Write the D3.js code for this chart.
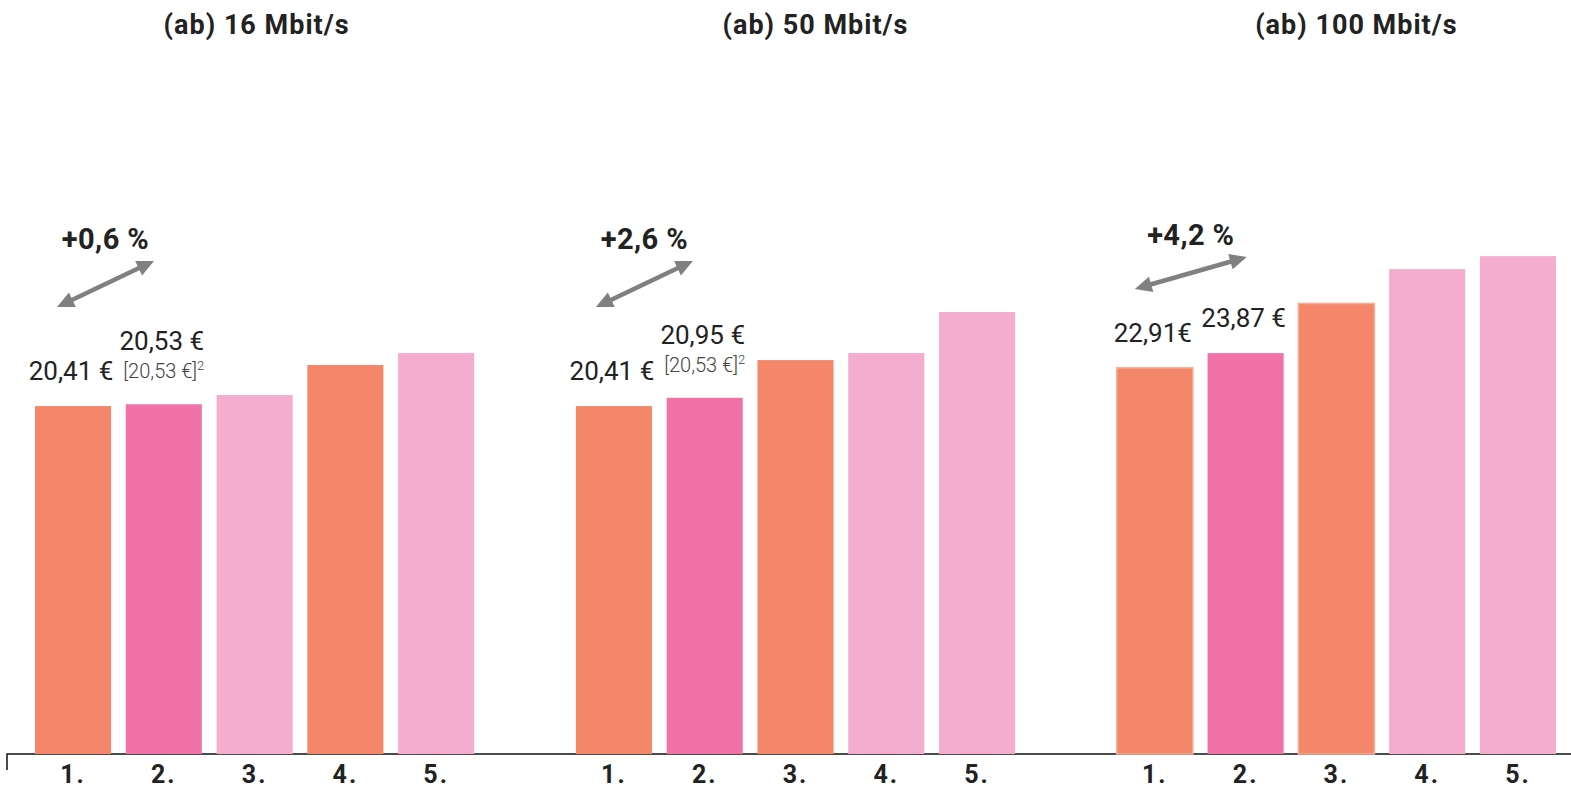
<!DOCTYPE html>
<html>
<head>
<meta charset="utf-8">
<script src="https://cdn.jsdelivr.net/npm/d3@7"></script>
<style>
  html, body { margin: 0; padding: 0; background: #fff; }
  svg { display: block; font-family: Roboto, "Noto Sans", sans-serif; }
</style>
</head>
<body>
<svg id="chart" width="1571" height="789"></svg>
<script>
// ---------- data ----------
const panels = ["(ab) 16 Mbit/s", "(ab) 50 Mbit/s", "(ab) 100 Mbit/s"];
const ranks = ["1.", "2.", "3.", "4.", "5."];
const values16 = [20.41, 20.53, 21.13, 23.09, 23.87];
const values50 = [20.41, 20.95, 23.41, 23.87, 26.55];
const values100 = [22.91, 23.87, 27.11, 29.35, 30.20];
const seriesValues = [values16, values50, values100];
const colorKinds16 = ["a", "b", "c", "a", "c"];
const colorKinds50 = ["a", "b", "a", "c", "c"];
const colorKinds100 = ["a", "b", "a", "c", "c"];
const seriesKinds = [colorKinds16, colorKinds50, colorKinds100];
const valueLabels = [["20,41 €", "20,53 €"], ["20,41 €", "20,95 €"], ["22,91€", "23,87 €"]];
const noteLabels = [[null, "[20,53 €]"], [null, "[20,53 €]"], [null, null]];
const changeLabels = ["+0,6 %", "+2,6 %", "+4,2 %"];

// ---------- layout / style ----------
const W = 1571, H = 789;
const baseY = 754;
const colors = { a: "#F4866A", b: "#F072A8", c: "#F4ADCF" };
const titleDx = [2, 20, 20];
// arrow geometry, panel-relative x and absolute y: [x1, y1, x2, y2]
const arrowGeom = [[22, 307, 119, 261], [20, 307, 117, 261], [18, 289, 130, 257]];

const svg = d3.select("#chart");

const outer = d3.scaleBand().domain(panels).range([35, 1556]).paddingInner(0.188).paddingOuter(0);
const inner = d3.scaleBand().domain(ranks).range([0, outer.bandwidth()]).paddingInner(0.162).paddingOuter(0);
const y = d3.scaleLinear().domain([-2.3, 45]).range([baseY, baseY - 47.3 * 15.32]);

// axis line
svg.append("path")
  .attr("d", `M7,${baseY + 16}V${baseY}H${W}`)
  .attr("fill", "none").attr("stroke", "#111").attr("stroke-width", 1.5);

panels.forEach((p, pi) => {
  const g = svg.append("g").attr("transform", `translate(${outer(p)},0)`);
  const vals = seriesValues[pi];
  const kinds = seriesKinds[pi];

  // title
  g.append("text")
    .attr("x", outer.bandwidth() / 2 + titleDx[pi]).attr("y", 34)
    .attr("text-anchor", "middle")
    .attr("font-size", 27).attr("font-weight", 700).attr("fill", "#222")
    .attr("letter-spacing", 1)
    .text(p);

  // bars
  g.selectAll("rect.bar").data(ranks).join("rect")
    .attr("class", "bar")
    .attr("x", d => inner(d))
    .attr("width", inner.bandwidth())
    .attr("y", (d, i) => y(vals[i]))
    .attr("height", (d, i) => y.range()[0] - y(vals[i]))
    .attr("fill", (d, i) => colors[kinds[i]])
    .attr("stroke", (d, i) => (pi === 2 && kinds[i] === "a") ? "#F8AE95" : "none")
    .attr("stroke-width", 1.5);

  // rank labels
  g.selectAll("text.rank").data(ranks).join("text")
    .attr("class", "rank")
    .attr("x", d => inner(d) + inner.bandwidth() / 2)
    .attr("y", 783)
    .attr("text-anchor", "middle")
    .attr("font-size", 25).attr("font-weight", 700).attr("fill", "#222")
    .attr("letter-spacing", 2)
    .text(d => d);

  // value labels
  valueLabels[pi].forEach((lab, i) => {
    const cx = inner(ranks[i]) + inner.bandwidth() / 2;
    const note = noteLabels[pi][i];
    const top = y(vals[i]);
    if (note) {
      const t = g.append("text")
        .attr("x", cx).attr("y", top - 26)
        .attr("text-anchor", "middle")
        .attr("font-size", 20).attr("font-weight", 300).attr("fill", "#444");
      t.append("tspan").text(note);
      t.append("tspan").attr("font-size", 13).attr("dy", -8).text("2");
    }
    g.append("text")
      .attr("x", cx - 2).attr("y", top - (note ? 54 : 26))
      .attr("text-anchor", "middle")
      .attr("font-size", 26).attr("font-weight", 400).attr("fill", "#222")
      .text(lab);
  });

  // arrow
  const [ax1, ay1, ax2, ay2] = arrowGeom[pi];
  const dx = ax2 - ax1, dy = ay2 - ay1, len = Math.hypot(dx, dy);
  const ux = dx / len, uy = dy / len, nx = -uy, ny = ux;
  const hl = 17, hw = 8;
  const arrowCol = "#808080";
  g.append("line")
    .attr("x1", ax1 + ux * hl * 0.8).attr("y1", ay1 + uy * hl * 0.8)
    .attr("x2", ax2 - ux * hl * 0.8).attr("y2", ay2 - uy * hl * 0.8)
    .attr("stroke", arrowCol).attr("stroke-width", 4.5);
  const head = (tx, ty, sx, sy) => {
    const bx = tx + sx * hl, by = ty + sy * hl;
    return `M${tx},${ty}L${bx + nx * hw},${by + ny * hw}L${bx - nx * hw},${by - ny * hw}Z`;
  };
  g.append("path").attr("d", head(ax1, ay1, ux, uy)).attr("fill", arrowCol);
  g.append("path").attr("d", head(ax2, ay2, -ux, -uy)).attr("fill", arrowCol);

  // change label
  g.append("text")
    .attr("x", (ax1 + ax2) / 2).attr("y", Math.min(ay1, ay2) - 12)
    .attr("text-anchor", "middle")
    .attr("font-size", 29).attr("font-weight", 700).attr("fill", "#222")
    .attr("letter-spacing", 0.4)
    .text(changeLabels[pi]);
});
</script>
</body>
</html>
